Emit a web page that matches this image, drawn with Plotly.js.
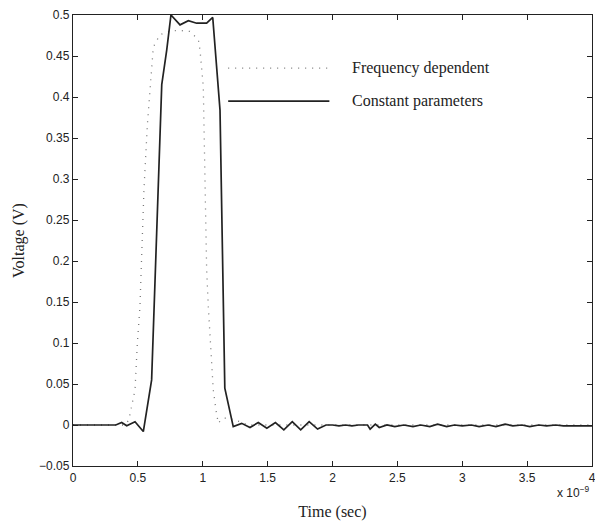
<!DOCTYPE html>
<html>
<head>
<meta charset="utf-8">
<script src="https://cdn.plot.ly/plotly-3.0.1.min.js"></script>
<style>html,body{margin:0;padding:0;background:#fff}#chart{width:595px;height:521px}</style>
</head>
<body>
<div id="chart"></div>
<script>
// Time in units of 1e-9 s (axis shows "x 10^-9")
const timeConst = [0, 0.33, 0.375, 0.414, 0.478, 0.542, 0.606, 0.684, 0.722, 0.755, 0.825, 0.889, 0.953, 1.03, 1.077, 1.133, 1.17, 1.235, 1.30, 1.364, 1.428, 1.494, 1.56, 1.625, 1.69, 1.755, 1.82, 1.885, 1.95, 2.0, 2.05, 2.1, 2.15, 2.2, 2.27, 2.29, 2.33, 2.36, 2.42, 2.48, 2.55, 2.62, 2.68, 2.75, 2.81, 2.88, 2.94, 3.0, 3.07, 3.13, 3.2, 3.26, 3.33, 3.39, 3.46, 3.52, 3.59, 3.65, 3.72, 3.78, 3.85, 3.91, 4.0];
const voltConst = [0, 0, 0.003, -0.001, 0.004, -0.008, 0.055, 0.415, 0.457, 0.5, 0.488, 0.493, 0.490, 0.490, 0.497, 0.384, 0.045, -0.002, 0.002, -0.003, 0.003, -0.004, 0.003, -0.006, 0.004, -0.006, 0.004, -0.005, 0.000, 0.000, -0.001, 0.000, -0.001, 0.000, 0.000, -0.005, 0.001, -0.003, 0.000, -0.002, 0.000, -0.002, 0.000, -0.002, 0.001, -0.002, 0.000, -0.001, 0.000, -0.002, 0.000, -0.002, 0.001, -0.001, 0.000, -0.002, 0.000, -0.001, 0.000, -0.001, -0.001, -0.001, -0.001];

const timeFreq = [0, 0.40, 0.43, 0.45, 0.478, 0.496, 0.516, 0.529, 0.547, 0.573, 0.588, 0.606, 0.619, 0.67, 0.76, 0.83, 0.90, 0.966, 0.979, 1.004, 1.02, 1.03, 1.043, 1.064, 1.081, 1.102, 1.12, 1.146, 1.185, 1.287, 1.35, 4.0];
const voltFreq = [0, 0, 0.006, 0.02, 0.043, 0.1, 0.144, 0.205, 0.287, 0.366, 0.399, 0.433, 0.461, 0.476, 0.481, 0.481, 0.480, 0.470, 0.457, 0.413, 0.30, 0.19, 0.144, 0.083, 0.043, 0.018, 0.002, 0.007, 0.009, 0.004, 0, 0];

const xTicks = [0, 0.5, 1, 1.5, 2, 2.5, 3, 3.5, 4];
const xTickText = ["0", "0.5", "1", "1.5", "2", "2.5", "3", "3.5", "4"];
const yTicks = [-0.05, 0, 0.05, 0.1, 0.15, 0.2, 0.25, 0.3, 0.35, 0.4, 0.45, 0.5];
const yTickText = ["\u22120.05", "0", "0.05", "0.1", "0.15", "0.2", "0.25", "0.3", "0.35", "0.4", "0.45", "0.5"];
const seriesNames = ["Frequency dependent", "Constant parameters"];

const tickFont = {family: "Liberation Sans, Arial, sans-serif", size: 12, color: "#222"};
const serif = "Liberation Serif, Times New Roman, serif";

const traces = [
  {x: timeFreq, y: voltFreq, mode: "lines", name: seriesNames[0],
   line: {color: "#777", width: 1.3, dash: "1px,6px"}},
  {x: timeConst, y: voltConst, mode: "lines", name: seriesNames[1],
   line: {color: "#222", width: 1.7}}
];

const axisCommon = {
  showline: true, linecolor: "#222", linewidth: 1.2, mirror: "ticks",
  ticks: "inside", ticklen: 5, tickcolor: "#222", showgrid: false, zeroline: false,
  tickfont: tickFont, ticklabeloverflow: "allow"
};

const layout = {
  width: 595, height: 521,
  margin: {l: 73, r: 3, t: 15, b: 55},
  paper_bgcolor: "#fff", plot_bgcolor: "#fff",
  showlegend: false,
  xaxis: Object.assign({}, axisCommon, {
    range: [0, 4], tickmode: "array", tickvals: xTicks, ticktext: xTickText,
    title: {text: "Time (sec)", font: {family: serif, size: 16, color: "#222"}, standoff: 22}
  }),
  yaxis: Object.assign({}, axisCommon, {
    range: [-0.05, 0.5], tickmode: "array", tickvals: yTicks, ticktext: yTickText,
    title: {text: "Voltage (V)", font: {family: serif, size: 16, color: "#222"}, standoff: 10}
  }),
  shapes: [
    {type: "line", xref: "paper", yref: "paper", x0: 0.299, x1: 0.491, y0: 0.882, y1: 0.882,
     line: {color: "#777", width: 1.3, dash: "1px,6px"}},
    {type: "line", xref: "paper", yref: "paper", x0: 0.299, x1: 0.494, y0: 0.809, y1: 0.809,
     line: {color: "#222", width: 1.7}}
  ],
  annotations: [
    {xref: "paper", yref: "paper", x: 0.534, y: 0.882, xanchor: "left", yanchor: "middle",
     text: seriesNames[0], showarrow: false, font: {family: serif, size: 16, color: "#222"}},
    {xref: "paper", yref: "paper", x: 0.534, y: 0.809, xanchor: "left", yanchor: "middle",
     text: seriesNames[1], showarrow: false, font: {family: serif, size: 16, color: "#222"}},
    {xref: "paper", yref: "paper", x: 1.0, y: -0.035, xanchor: "right", yanchor: "top",
     text: "x 10<sup>\u22129</sup>", showarrow: false, font: {family: "Liberation Sans, Arial, sans-serif", size: 12, color: "#222"}}
  ]
};

Plotly.newPlot("chart", traces, layout, {displayModeBar: false, staticPlot: true});
</script>
</body>
</html>
